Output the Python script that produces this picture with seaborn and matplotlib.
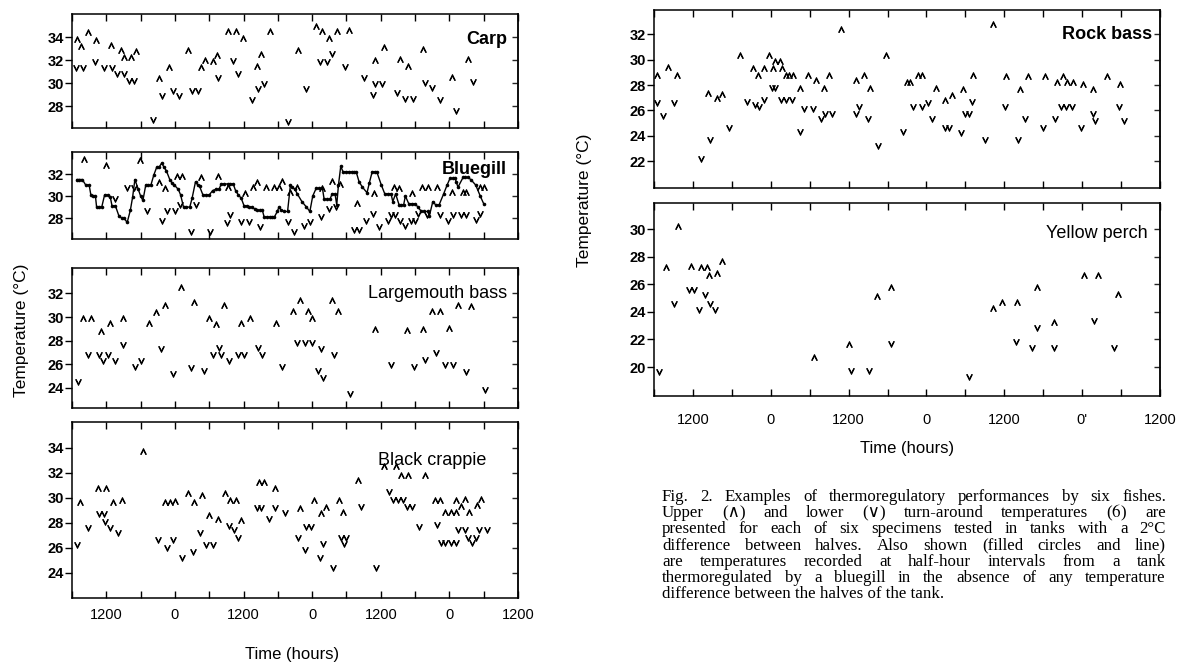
import numpy as np
import matplotlib
matplotlib.use("Agg")
import matplotlib.pyplot as plt
import seaborn as sns

# ---- data: time in hours (6 = 0600 of day 1), temperature in deg C ----
carp_up_t = [6.95, 7.56, 8.8, 10.2, 12.75, 14.5, 15.1, 16.3, 17.2, 21.3,
             22.9, 26.3, 28.6, 29.3, 30.6, 31.4, 33.3, 34.6, 35.9, 38.4,
             39.1, 40.6, 45.5, 48.7, 49.8, 50.9, 52.3, 54.5, 59.0, 60.5,
             63.3, 64.7, 67.4, 72.4, 75.3]
carp_up_T = [33.8, 33.2, 34.4, 33.7, 33.3, 32.9, 32.3, 32.3, 32.8, 30.4,
             31.4, 32.9, 31.4, 32.0, 31.95, 32.4, 34.5, 34.5, 33.9, 31.5,
             32.5, 34.5, 32.9, 35.0, 34.5, 33.9, 34.5, 34.6, 32.0, 33.1,
             32.1, 31.5, 33.0, 30.5, 32.1]
carp_lo_t = [6.7, 8.0, 10.0, 11.6, 13.0, 13.8, 15.1, 15.9, 16.9, 20.1,
             21.8, 23.6, 24.7, 27.0, 28.0, 31.5, 34.2, 35.1, 37.5, 38.6,
             39.5, 43.8, 46.9, 49.4, 50.6, 51.5, 53.8, 57.0, 58.6, 59.0,
             60.2, 62.8, 64.2, 65.6, 67.7, 68.9, 70.4, 73.2, 76.2]
carp_lo_T = [31.3, 31.3, 31.8, 31.3, 31.3, 30.8, 30.8, 30.2, 30.2, 26.8,
             28.9, 29.3, 28.9, 29.3, 29.3, 30.4, 31.9, 30.8, 28.5, 29.5,
             29.9, 26.6, 29.5, 31.8, 31.8, 32.5, 31.4, 30.4, 29.0, 29.9,
             29.9, 29.1, 28.6, 28.6, 30.0, 29.6, 28.5, 27.6, 30.1]

bg_up_t = [8.06, 11.86, 17.9, 21.2, 22.35, 24.4, 25.25, 28.6, 31.5, 33.3,
           36.2, 37.6, 38.4, 39.9, 41.3, 42.2, 42.8, 44.1, 45.3, 49.8,
           51.5, 52.9, 55.8, 58.8, 62.4, 63.2, 65.5, 67.2, 68.2, 69.9,
           72.4, 74.4, 74.9, 77.3, 78.0]
bg_up_T = [33.4, 32.85, 33.3, 31.26, 30.7, 31.8, 31.8, 31.7, 31.8, 30.86,
           30.3, 30.8, 31.3, 30.8, 30.8, 30.8, 31.4, 30.4, 30.86, 30.7,
           31.4, 31.1, 29.4, 30.3, 30.86, 30.7, 30.3, 30.86, 30.86, 30.86,
           30.4, 30.4, 30.4, 30.86, 30.86]
bg_lo_t = [13.5, 15.65, 16.9, 19.1, 21.7, 22.7, 24.1, 24.9, 26.8, 27.65,
           30.2, 33.1, 33.7, 35.6, 36.9, 38.9, 43.7, 44.9, 46.5, 47.7,
           49.5, 50.9, 52.2, 55.4, 56.2, 57.5, 58.7, 59.7, 61.25, 61.8,
           62.5, 63.4, 64.3, 65.2, 65.9, 66.5, 68.0, 70.3, 71.8, 72.6,
           74.1, 74.9, 76.6, 77.4]
bg_lo_T = [29.7, 30.7, 30.7, 28.6, 27.7, 28.6, 28.6, 29.2, 26.7, 29.2,
           26.7, 27.55, 28.3, 27.6, 27.6, 27.2, 27.6, 26.75, 27.3, 27.6,
           28.1, 28.8, 29.0, 26.9, 26.9, 27.7, 28.4, 27.2, 27.7, 28.3,
           28.3, 27.7, 27.3, 27.7, 27.7, 28.4, 28.3, 28.3, 27.7, 28.3,
           28.3, 28.3, 27.8, 28.4]
# half-hour record of the tank with no temperature difference
bg_tank_t = [6.8, 7.3, 7.8, 8.4, 9.0, 9.3, 9.7, 10.1, 10.3, 10.8,
             11.2, 11.7, 12.3, 12.7, 13.0, 13.6, 14.2, 14.7, 15.1, 15.65,
             16.2, 16.6, 17.0, 17.6, 18.0, 18.4, 18.9, 19.3, 19.8, 20.3,
             20.8, 21.2, 21.7, 22.1, 22.5, 23.1, 23.5, 23.9, 24.6, 25.0,
             25.5, 26.0, 26.6, 27.0, 27.6, 28.0, 28.3, 28.9, 29.4, 30.0,
             30.6, 31.1, 31.7, 32.1, 32.6, 33.2, 33.7, 34.2, 34.6, 35.1,
             35.6, 36.1, 36.6, 37.0, 37.5, 38.0, 38.4, 38.9, 39.3, 39.6,
             40.1, 40.6, 41.0, 41.4, 41.9, 42.2, 42.6, 43.1, 43.7, 44.2,
             44.5, 45.0, 45.4, 46.2, 47.0, 47.6, 48.1, 48.7, 49.2, 49.8,
             50.1, 50.6, 51.1, 51.5, 52.0, 52.3, 52.6, 53.0, 53.4, 53.9,
             54.4, 54.9, 55.4, 55.7, 56.2, 56.8, 57.6, 58.0, 58.5, 59.0,
             59.3, 60.1, 60.7, 61.2, 61.8, 62.1, 62.6, 63.2, 63.6, 64.0,
             64.3, 64.9, 65.4, 66.0, 66.5, 67.1, 67.6, 68.2, 68.5, 69.1,
             69.6, 70.2, 71.0, 71.6, 72.1, 72.6, 73.0, 73.2, 73.5, 74.4,
             74.8, 75.2, 75.75, 76.6, 77.4, 78.0]
bg_tank_T = [31.5, 31.5, 31.5, 31.0, 31.0, 30.1, 30.0, 30.0, 29.0, 29.0,
             29.0, 30.1, 30.1, 29.9, 29.1, 29.1, 28.2, 28.0, 28.0, 27.6,
             28.7, 29.9, 31.5, 30.6, 30.0, 29.6, 31.0, 31.0, 31.0, 31.9,
             32.6, 32.6, 33.0, 32.6, 32.3, 31.5, 31.2, 31.0, 30.6, 30.1,
             29.0, 29.0, 29.0, 29.8, 31.3, 31.0, 30.9, 30.1, 30.1, 30.1,
             30.5, 30.6, 30.6, 31.1, 31.1, 31.1, 31.1, 31.1, 30.5, 30.1,
             29.8, 29.1, 29.1, 29.0, 29.0, 28.8, 28.7, 28.7, 28.7, 28.1,
             28.1, 28.1, 28.1, 28.1, 28.6, 29.0, 28.7, 28.6, 28.6, 31.0,
             30.8, 30.6, 30.2, 29.5, 29.0, 28.6, 30.0, 30.7, 30.7, 30.7,
             29.7, 29.7, 29.7, 30.2, 30.2, 29.2, 31.0, 32.7, 32.2, 32.2,
             32.2, 32.2, 32.2, 32.2, 31.3, 30.8, 30.3, 31.2, 32.2, 32.2,
             32.2, 31.0, 30.2, 30.2, 30.2, 29.5, 30.2, 29.2, 29.2, 29.2,
             30.0, 29.3, 29.3, 29.3, 29.0, 28.6, 28.6, 28.6, 28.2, 29.5,
             29.2, 29.2, 30.2, 31.0, 31.6, 31.6, 31.6, 31.3, 30.8, 31.7,
             31.7, 31.7, 31.5, 31.0, 30.0, 29.3]

lmb_up_t = [8.0, 9.3, 11.0, 12.7, 14.9, 19.4, 20.7, 22.3, 25.0, 27.4,
            29.9, 31.1, 32.6, 35.6, 37.1, 41.6, 44.7, 45.9, 47.2, 47.9,
            51.4, 52.6, 59.0, 64.6, 67.4, 69.0, 70.3, 72.0, 73.5, 75.8]
lmb_up_T = [29.9, 29.9, 28.85, 29.5, 29.9, 29.5, 30.4, 31.0, 32.5, 31.3,
            29.9, 29.4, 31.0, 29.5, 29.9, 29.5, 30.5, 31.4, 30.5, 29.9,
            31.4, 30.5, 28.95, 28.9, 28.95, 30.5, 30.5, 29.05, 31.0, 30.9]
lmb_lo_t = [7.1, 8.8, 10.7, 11.4, 12.3, 13.5, 14.9, 17.05, 18.0, 21.5,
            23.6, 26.8, 29.0, 30.7, 31.7, 32.0, 33.5, 35.0, 36.0, 38.6,
            39.3, 42.7, 45.3, 46.7, 47.9, 49.1, 49.5, 49.9, 51.9, 54.7,
            61.8, 65.8, 67.8, 69.6, 71.3, 72.6, 74.9, 78.3]
lmb_lo_T = [24.5, 26.8, 26.8, 26.3, 26.8, 26.3, 27.6, 25.8, 26.3, 27.3,
            25.2, 25.7, 25.4, 26.8, 27.35, 26.8, 26.3, 26.8, 26.8, 27.4,
            26.8, 25.8, 27.8, 27.8, 27.8, 25.4, 27.3, 24.8, 26.8, 23.5,
            25.9, 25.8, 26.4, 26.95, 25.9, 25.9, 25.35, 23.85]

bc_up_t = [7.36, 10.6, 12.0, 13.1, 14.8, 18.4, 22.2, 23.1, 24.1, 26.3,
           27.3, 28.7, 29.9, 31.6, 32.7, 33.6, 34.6, 35.6, 38.7, 39.6,
           41.5, 45.8, 48.3, 49.5, 50.4, 52.7, 53.4, 56.0, 60.5, 62.7,
           63.5, 64.75, 67.75, 69.5, 70.4, 71.3, 72.3, 73.2, 73.2, 74.1,
           74.8, 75.5, 76.9, 77.6]
bc_up_T = [29.7, 30.75, 30.75, 29.7, 29.8, 33.7, 29.7, 29.7, 29.75, 30.35,
           29.7, 30.2, 28.6, 28.3, 30.35, 29.8, 29.8, 28.25, 31.3, 31.3,
           30.8, 29.2, 29.8, 28.8, 29.3, 29.8, 28.9, 31.4, 32.5, 32.5,
           31.85, 31.85, 31.85, 29.8, 29.8, 28.9, 28.9, 28.9, 29.8, 29.35,
           29.9, 28.9, 29.4, 29.9]
bc_lo_t = [6.9, 8.8, 10.7, 11.6, 11.8, 12.7, 14.0, 21.1, 22.7, 23.6,
           25.2, 27.2, 28.4, 29.45, 30.6, 33.5, 34.3, 35.1, 38.4, 39.1,
           40.5, 41.5, 43.2, 45.6, 46.8, 47.0, 47.8, 49.3, 49.9, 51.7,
           53.0, 53.5, 53.9, 56.6, 59.2, 61.5, 62.2, 63.0, 63.9, 64.6,
           65.5, 66.6, 69.8, 70.5, 71.3, 72.2, 73.2, 73.5, 74.7, 75.3,
           76.0, 76.7, 77.2, 78.5]
bc_lo_T = [26.2, 27.6, 28.7, 28.7, 28.1, 27.6, 27.2, 26.6, 26.0, 26.6,
           25.2, 25.7, 27.2, 26.2, 26.2, 27.75, 27.4, 26.8, 29.2, 29.2,
           28.3, 29.2, 28.8, 26.8, 25.85, 27.7, 27.7, 25.2, 26.3, 24.4,
           26.8, 26.3, 26.8, 29.3, 24.4, 30.5, 29.8, 29.8, 29.8, 29.3,
           29.3, 27.7, 27.8, 26.4, 26.4, 26.4, 26.4, 27.4, 27.4, 26.8,
           26.4, 26.8, 27.4, 27.4]

rb_up_t = [6.4, 8.1, 9.5, 14.3, 15.7, 16.5, 19.3, 21.2, 22.0, 22.9,
           23.7, 24.4, 24.7, 25.4, 25.8, 26.4, 26.75, 27.4, 28.5, 29.7,
           31.0, 32.2, 32.9, 34.9, 37.1, 38.4, 39.3, 41.8, 45.0, 45.5,
           46.7, 47.3, 49.5, 50.8, 51.9, 53.6, 55.2, 58.3, 60.2, 62.4,
           63.7, 66.2, 68.1, 69.1, 69.6, 70.6, 72.2, 73.7, 75.9, 77.8]
rb_up_T = [28.8, 29.4, 28.8, 27.4, 27.0, 27.3, 30.4, 29.35, 28.8, 29.35,
           30.4, 29.3, 29.9, 29.9, 29.35, 28.8, 28.8, 28.8, 27.8, 28.75,
           28.4, 27.75, 28.75, 32.4, 28.4, 28.8, 27.75, 30.4, 28.2, 28.2,
           28.8, 28.8, 27.8, 26.8, 27.2, 27.7, 28.8, 32.8, 28.7, 27.65,
           28.7, 28.7, 28.2, 28.7, 28.2, 28.2, 28.1, 27.7, 28.7, 28.1]
rb_lo_t = [6.4, 7.4, 9.1, 13.2, 14.6, 17.6, 20.3, 21.5, 22.2, 22.9,
           24.2, 24.7, 25.6, 26.4, 27.2, 28.5, 29.1, 30.5, 31.8, 32.4,
           33.5, 37.1, 37.6, 39.0, 40.6, 44.4, 46.0, 47.3, 48.3, 48.9,
           50.8, 51.4, 53.3, 54.0, 54.6, 55.0, 57.1, 60.1, 62.1, 63.2,
           66.0, 67.8, 68.7, 69.5, 70.4, 71.8, 73.7, 74.0, 77.7, 78.5]
rb_lo_T = [26.6, 25.6, 26.6, 22.2, 23.7, 24.65, 26.7, 26.4, 26.3, 26.8,
           27.75, 27.75, 26.8, 26.8, 26.8, 24.3, 26.1, 26.1, 25.3, 25.7,
           25.7, 25.7, 26.3, 25.3, 23.2, 24.3, 26.3, 26.3, 26.6, 25.3,
           24.65, 24.65, 24.25, 25.7, 25.7, 26.7, 23.7, 26.25, 23.7, 25.3,
           24.65, 25.3, 26.25, 26.25, 26.25, 24.65, 25.7, 25.2, 26.25, 25.2]

yp_up_t = [7.85, 9.7, 11.7, 13.2, 14.2, 14.5, 15.7, 16.5, 30.7, 36.0,
           40.4, 42.6, 58.3, 59.7, 61.9, 65.1, 67.6, 72.3, 74.4, 77.5]
yp_up_T = [27.25, 30.2, 27.3, 27.25, 27.25, 26.7, 26.8, 27.7, 20.7, 21.7,
           25.15, 25.8, 24.3, 24.7, 24.7, 25.8, 23.3, 26.7, 26.7, 25.3]
yp_lo_t = [6.7, 9.1, 11.4, 12.1, 13.0, 13.85, 14.6, 15.4, 36.3, 39.1,
           42.6, 54.5, 61.75, 64.2, 65.0, 67.6, 73.9, 76.9]
yp_lo_T = [19.65, 24.6, 25.6, 25.6, 24.15, 25.2, 24.6, 24.15, 19.7, 19.7,
           21.7, 19.25, 21.8, 21.4, 22.8, 21.4, 23.35, 21.4]

hour_ticks = list(range(6, 85, 6))
clock_labels = ["", "1200", "", "0", "", "1200", "", "0", "", "1200", "", "0", "", "1200"]
clock_labels_yp = ["", "1200", "", "0", "", "1200", "", "0", "", "1200", "", "0'", "", "1200"]

caption_lines = [
    "Fig. 2. Examples of thermoregulatory performances by six fishes.",
    "Upper (\u2227) and lower (\u2228) turn-around temperatures ($\\mathit{6}$) are",
    "presented for each of six specimens tested in tanks with a 2\u00b0C",
    "difference between halves. Also shown (filled circles and line)",
    "are temperatures recorded at half-hour intervals from a tank",
    "thermoregulated by a bluegill in the absence of any temperature",
    "difference between the halves of the tank.",
]

# ---- figure ----
sns.set_theme(style="white")
plt.rcParams["font.family"] = ["Liberation Sans", "DejaVu Sans"]
plt.rcParams["mathtext.fontset"] = "stix"

W, H = 1181, 669
fig = plt.figure(figsize=(W / 100, H / 100), dpi=100)
fig.patch.set_facecolor("white")


def px_axes(x0, y0, x1, y1):
    return fig.add_axes([x0 / W, 1 - y1 / H, (x1 - x0) / W, (y1 - y0) / H])


def marks(ax, t, T, up):
    sns.scatterplot(x=t, y=T, ax=ax, marker=r"$\wedge$" if up else r"$\vee$",
                    s=17, color="black", edgecolor="black", linewidth=0.7, legend=False)


def style(ax, ylim, yticks, name, name_bold, name_pos, labels=None, xpad=7):
    ax.set_xlim(6, 84)
    ax.set_ylim(*ylim)
    ax.set_xticks(hour_ticks)
    ax.set_yticks(yticks)
    ax.set_xlabel("")
    ax.set_ylabel("")
    for s in ax.spines.values():
        s.set_color("black")
        s.set_linewidth(1.1)
    ax.tick_params(axis="x", direction="in", top=True, bottom=True, length=5, width=1,
                   colors="black", labelsize=10.5, pad=xpad)
    ax.tick_params(axis="y", direction="out", left=True, length=5, width=1,
                   colors="black", labelsize=10.5, pad=1)
    for lab in ax.get_yticklabels():
        lab.set_fontweight("bold")
    if labels is None:
        ax.set_xticklabels([])
    else:
        ax.set_xticklabels(labels)
    sec = ax.secondary_yaxis("right")
    sec.set_yticks(yticks)
    sec.tick_params(direction="in", length=4, width=1, labelright=False)
    sec.spines["right"].set_linewidth(1.1)
    ax.text(name_pos[0], name_pos[1], name, transform=ax.transAxes, ha="right", va="center",
            fontsize=13, fontweight="bold" if name_bold else "normal", color="black")


# left column
ax_carp = px_axes(72, 14, 518, 128)
marks(ax_carp, carp_up_t, carp_up_T, True)
marks(ax_carp, carp_lo_t, carp_lo_T, False)
style(ax_carp, (26.1, 36.0), [28, 30, 32, 34], "Carp", True, (0.975, 0.78))

ax_bg = px_axes(72, 152, 518, 239)
sns.lineplot(x=bg_tank_t, y=bg_tank_T, ax=ax_bg, color="black", linewidth=1.0,
             marker="o", markersize=2.6, markeredgewidth=0, sort=False, estimator=None)
marks(ax_bg, bg_up_t, bg_up_T, True)
marks(ax_bg, bg_lo_t, bg_lo_T, False)
style(ax_bg, (26.1, 34.0), [28, 30, 32], "Bluegill", True, (0.975, 0.8))

ax_lmb = px_axes(72, 268, 518, 408)
marks(ax_lmb, lmb_up_t, lmb_up_T, True)
marks(ax_lmb, lmb_lo_t, lmb_lo_T, False)
style(ax_lmb, (22.3, 34.15), [24, 26, 28, 30, 32], "Largemouth bass", False, (0.975, 0.82))

ax_bc = px_axes(72, 422, 518, 598)
marks(ax_bc, bc_up_t, bc_up_T, True)
marks(ax_bc, bc_lo_t, bc_lo_T, False)
style(ax_bc, (22.0, 36.05), [24, 26, 28, 30, 32, 34], "Black crappie", False, (0.93, 0.78),
      labels=clock_labels)

# right column
ax_rb = px_axes(654, 10, 1160, 188)
marks(ax_rb, rb_up_t, rb_up_T, True)
marks(ax_rb, rb_lo_t, rb_lo_T, False)
style(ax_rb, (19.9, 33.9), [22, 24, 26, 28, 30, 32], "Rock bass", True, (0.985, 0.86))

ax_yp = px_axes(654, 203, 1160, 396)
marks(ax_yp, yp_up_t, yp_up_T, True)
marks(ax_yp, yp_lo_t, yp_lo_T, False)
style(ax_yp, (17.9, 31.9), [20, 22, 24, 26, 28, 30], "Yellow perch", False, (0.975, 0.84),
      labels=clock_labels_yp, xpad=12)

# axis titles
fig.text(22 / W, 1 - 330 / H, "Temperature (\u00b0C)", rotation=90, ha="center", va="center",
         fontsize=12.5, color="black")
fig.text(585 / W, 1 - 200 / H, "Temperature (\u00b0C)", rotation=90, ha="center", va="center",
         fontsize=12.5, color="black")
fig.text(292 / W, 1 - 655 / H, "Time (hours)", ha="center", va="center", fontsize=12, color="black")
fig.text(907 / W, 1 - 448 / H, "Time (hours)", ha="center", va="center", fontsize=12, color="black")

# caption, justified line by line
renderer = fig.canvas.get_renderer()
cap_x0, cap_x1 = 662, 1166
cap_y0, cap_dy = 497, 16.2
cap_font = dict(family=["Liberation Serif", "DejaVu Serif"], fontsize=12.2, color="black")
for i, line in enumerate(caption_lines):
    y = 1 - (cap_y0 + i * cap_dy) / H
    words = line.split(" ")
    if i == len(caption_lines) - 1:
        fig.text(cap_x0 / W, y, line, ha="left", va="center", **cap_font)
        continue
    objs = [fig.text(0, y, w, ha="left", va="center", **cap_font) for w in words]
    widths = [o.get_window_extent(renderer=renderer).width for o in objs]
    gap = (cap_x1 - cap_x0 - sum(widths)) / (len(words) - 1)
    x = cap_x0
    for o, w in zip(objs, widths):
        o.set_x(x / W)
        x += w + gap

fig.savefig("out.png", dpi=100, facecolor="white")
